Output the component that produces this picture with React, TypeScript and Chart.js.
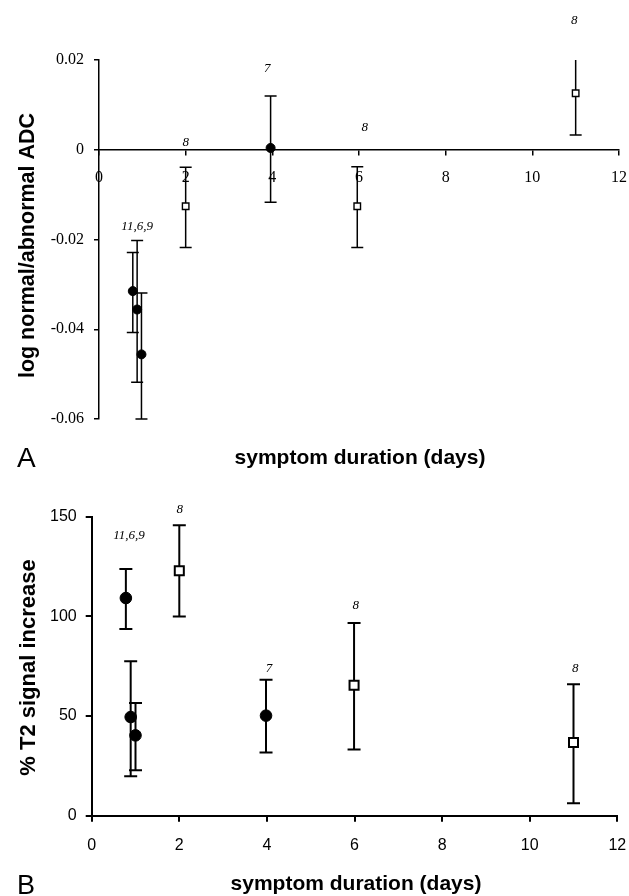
import { useEffect, useRef } from "react";
import { Chart, registerables } from "chart.js";

Chart.register(...registerables);

// axis ticks
const X_TICKS = [0, 2, 4, 6, 8, 10, 12];
const ADC_TICKS = [-0.06, -0.04, -0.02, 0, 0.02];
const T2_TICKS = [0, 50, 100, 150];

// A: log normal/abnormal ADC  (filled circles / open squares)
const ADC_DOT_X = [0.78, 0.88, 0.98, 3.96];
const ADC_DOT_Y = [-0.0315, -0.0356, -0.0456, 0.0004];
const ADC_DOT_LO = [-0.0407, -0.0518, -0.06, -0.0117];
const ADC_DOT_HI = [-0.0229, -0.0202, -0.0319, 0.012];

const ADC_SQ_X = [2, 5.96, 11];
const ADC_SQ_Y = [-0.0126, -0.0126, 0.0126];
const ADC_SQ_LO = [-0.0218, -0.0218, 0.0033];
const ADC_SQ_HI = [-0.0039, -0.0038, 0.0209];

const ADC_N_TEXT = ["11,6,9", "8", "7", "8", "8"];
const ADC_N_X = [0.88, 2, 3.88, 6.13, 10.97];
const ADC_N_Y = [-0.0171, 0.0016, 0.0181, 0.005, 0.0288];

// B: % T2 signal increase
const T2_DOT_X = [0.78, 0.89, 1.0, 3.98];
const T2_DOT_Y = [109.2, 49.5, 40.3, 50.2];
const T2_DOT_LO = [93.7, 19.8, 22.8, 31.7];
const T2_DOT_HI = [123.7, 77.5, 56.5, 68.2];

const T2_SQ_X = [2, 5.99, 11];
const T2_SQ_Y = [122.9, 65.4, 36.7];
const T2_SQ_LO = [99.9, 33.2, 6.2];
const T2_SQ_HI = [145.7, 96.7, 65.9];

const T2_N_TEXT = ["11,6,9", "8", "7", "8", "8"];
const T2_N_X = [0.85, 2.01, 4.05, 6.03, 11.04];
const T2_N_Y = [140.4, 153.4, 74, 105.2, 73.6];

const SANS = '"Liberation Sans", Arial, sans-serif';
const SERIF = '"Liberation Serif", "Times New Roman", serif';

type Bars = { x: number[]; lo: number[]; hi: number[] };
type Txt = { text: string; x: number; y: number; font: string; align?: CanvasTextAlign; rotate?: boolean };

const pts = (xs: number[], ys: number[]) => xs.map((x, i) => ({ x, y: ys[i] }));

function errorBars(series: Bars[], cap: number, lw: number) {
  return {
    id: "errorBars",
    beforeDatasetsDraw(chart: Chart) {
      const { ctx, chartArea: a } = chart;
      const xs = chart.scales.x, ys = chart.scales.y;
      ctx.save();
      ctx.beginPath();
      ctx.rect(a.left - 20, a.top, a.right - a.left + 40, a.bottom - a.top + 2);
      ctx.clip();
      ctx.strokeStyle = "#000";
      ctx.lineWidth = lw;
      for (const s of series) {
        s.x.forEach((v, i) => {
          const px = xs.getPixelForValue(v);
          const hi = ys.getPixelForValue(s.hi[i]);
          const lo = ys.getPixelForValue(s.lo[i]);
          ctx.beginPath();
          ctx.moveTo(px, hi); ctx.lineTo(px, lo);
          ctx.moveTo(px - cap, hi); ctx.lineTo(px + cap, hi);
          ctx.moveTo(px - cap, lo); ctx.lineTo(px + cap, lo);
          ctx.stroke();
        });
      }
      ctx.restore();
    },
  };
}

function countLabels(text: string[], xv: number[], yv: number[]) {
  return {
    id: "countLabels",
    afterDatasetsDraw(chart: Chart) {
      const { ctx } = chart;
      const xs = chart.scales.x, ys = chart.scales.y;
      ctx.save();
      ctx.font = `italic 13px ${SERIF}`;
      ctx.fillStyle = "#000";
      ctx.textAlign = "center";
      ctx.textBaseline = "middle";
      text.forEach((t, i) => ctx.fillText(t, xs.getPixelForValue(xv[i]), ys.getPixelForValue(yv[i])));
      ctx.restore();
    },
  };
}

function texts(items: Txt[]) {
  return {
    id: "texts",
    afterDraw(chart: Chart) {
      const { ctx } = chart;
      ctx.save();
      ctx.fillStyle = "#000";
      ctx.textBaseline = "alphabetic";
      for (const t of items) {
        ctx.save();
        ctx.font = t.font;
        ctx.textAlign = t.align ?? "center";
        ctx.translate(t.x, t.y);
        if (t.rotate) ctx.rotate(-Math.PI / 2);
        ctx.fillText(t.text, 0, 0);
        ctx.restore();
      }
      ctx.restore();
    },
  };
}

const axisLines = (lw: number, len: number) => ({
  grid: { display: true, drawOnChartArea: false, drawTicks: true, tickLength: len, color: "#000", lineWidth: lw },
  border: { display: true, color: "#000", width: lw },
});

const fixTicks = (vals: number[]) => (s: any) => { s.ticks = vals.map((value) => ({ value })); };

// keep the tick padding from pushing the chart area in from the sides
const noSidePad = (h?: number) => (s: any) => {
  s.paddingLeft = 0;
  s.paddingRight = 0;
  if (h !== undefined) s.height = h;
};

function dotSets(dx: number[], dy: number[], sx: number[], sy: number[], r: number, sr: number, lw: number) {
  return [
    { data: pts(dx, dy), pointStyle: "circle", pointRadius: r, pointHoverRadius: r, backgroundColor: "#000", borderColor: "#000", borderWidth: 1, showLine: false },
    { data: pts(sx, sy), pointStyle: "rect", pointRadius: sr, pointHoverRadius: sr, backgroundColor: "#fff", borderColor: "#000", borderWidth: lw, showLine: false },
  ];
}

export default function App() {
  const topRef = useRef<HTMLCanvasElement | null>(null);
  const botRef = useRef<HTMLCanvasElement | null>(null);

  useEffect(() => {
    document.body.style.margin = "0";
    if (!topRef.current || !botRef.current) return;

    const top = new Chart(topRef.current, {
      type: "scatter",
      data: { datasets: dotSets(ADC_DOT_X, ADC_DOT_Y, ADC_SQ_X, ADC_SQ_Y, 4.5, 4.6, 1.4) as any },
      options: {
        animation: false,
        responsive: false,
        events: [],
        layout: { padding: { left: 0, right: 10, top: 60, bottom: 51 } },
        plugins: { legend: { display: false }, tooltip: { enabled: false } },
        scales: {
          x: {
            type: "linear", min: 0, max: 12, position: { y: 0 },
            afterBuildTicks: fixTicks(X_TICKS),
            afterFit: noSidePad(),
            ticks: { font: { family: SERIF, size: 16 }, color: "#000", padding: 13, maxRotation: 0, autoSkip: false },
            ...axisLines(1.5, 5),
          },
          y: {
            type: "linear", min: -0.06, max: 0.02,
            afterBuildTicks: fixTicks(ADC_TICKS),
            afterFit: (s: any) => { s.width = 99; },
            ticks: {
              font: { family: SERIF, size: 16 }, color: "#000", padding: 10,
              callback: (v: any) => (Math.abs(v) < 1e-9 ? "0" : Number(v).toFixed(2)),
            },
            ...axisLines(1.5, 5),
          },
        } as any,
      },
      plugins: [
        errorBars([
          { x: ADC_DOT_X, lo: ADC_DOT_LO, hi: ADC_DOT_HI },
          { x: ADC_SQ_X, lo: ADC_SQ_LO, hi: ADC_SQ_HI },
        ], 6, 1.5),
        countLabels(ADC_N_TEXT, ADC_N_X, ADC_N_Y),
        texts([
          { text: "symptom duration (days)", x: 360, y: 464, font: `bold 21px ${SANS}` },
          { text: "log normal/abnormal ADC", x: 34, y: 245.5, font: `bold 21.5px ${SANS}`, rotate: true },
          { text: "A", x: 17, y: 467, font: `28px ${SANS}`, align: "left" },
        ]),
      ],
    });

    const bot = new Chart(botRef.current, {
      type: "scatter",
      data: { datasets: dotSets(T2_DOT_X, T2_DOT_Y, T2_SQ_X, T2_SQ_Y, 5.8, 6.4, 2) as any },
      options: {
        animation: false,
        responsive: false,
        events: [],
        layout: { padding: { left: 0, right: 11.7, top: 46.7, bottom: 40.3 } },
        plugins: { legend: { display: false }, tooltip: { enabled: false } },
        scales: {
          x: {
            type: "linear", min: 0, max: 12, position: "bottom",
            afterBuildTicks: fixTicks(X_TICKS),
            afterFit: noSidePad(40),
            ticks: { font: { family: SANS, size: 16 }, color: "#000", padding: 14, maxRotation: 0, autoSkip: false },
            ...axisLines(2, 6),
          },
          y: {
            type: "linear", min: 0, max: 150,
            afterBuildTicks: fixTicks(T2_TICKS),
            afterFit: (s: any) => { s.width = 91.7; },
            ticks: { font: { family: SANS, size: 16 }, color: "#000", padding: 9 },
            ...axisLines(2, 6),
          },
        } as any,
      },
      plugins: [
        errorBars([
          { x: T2_DOT_X, lo: T2_DOT_LO, hi: T2_DOT_HI },
          { x: T2_SQ_X, lo: T2_SQ_LO, hi: T2_SQ_HI },
        ], 6.5, 2),
        countLabels(T2_N_TEXT, T2_N_X, T2_N_Y),
        texts([
          { text: "symptom duration (days)", x: 356, y: 420, font: `bold 21px ${SANS}` },
          { text: "% T2 signal increase", x: 35, y: 197.5, font: `bold 22px ${SANS}`, rotate: true },
          { text: "B", x: 17, y: 424, font: `27px ${SANS}`, align: "left" },
        ]),
      ],
    });

    return () => { top.destroy(); bot.destroy(); };
  }, []);

  return (
    <div style={{ position: "relative", width: 629, height: 896, background: "#fff", overflow: "hidden" }}>
      <canvas ref={topRef} width={629} height={470} style={{ position: "absolute", left: 0, top: 0 }} />
      <canvas ref={botRef} width={629} height={426} style={{ position: "absolute", left: 0, top: 470 }} />
    </div>
  );
}
